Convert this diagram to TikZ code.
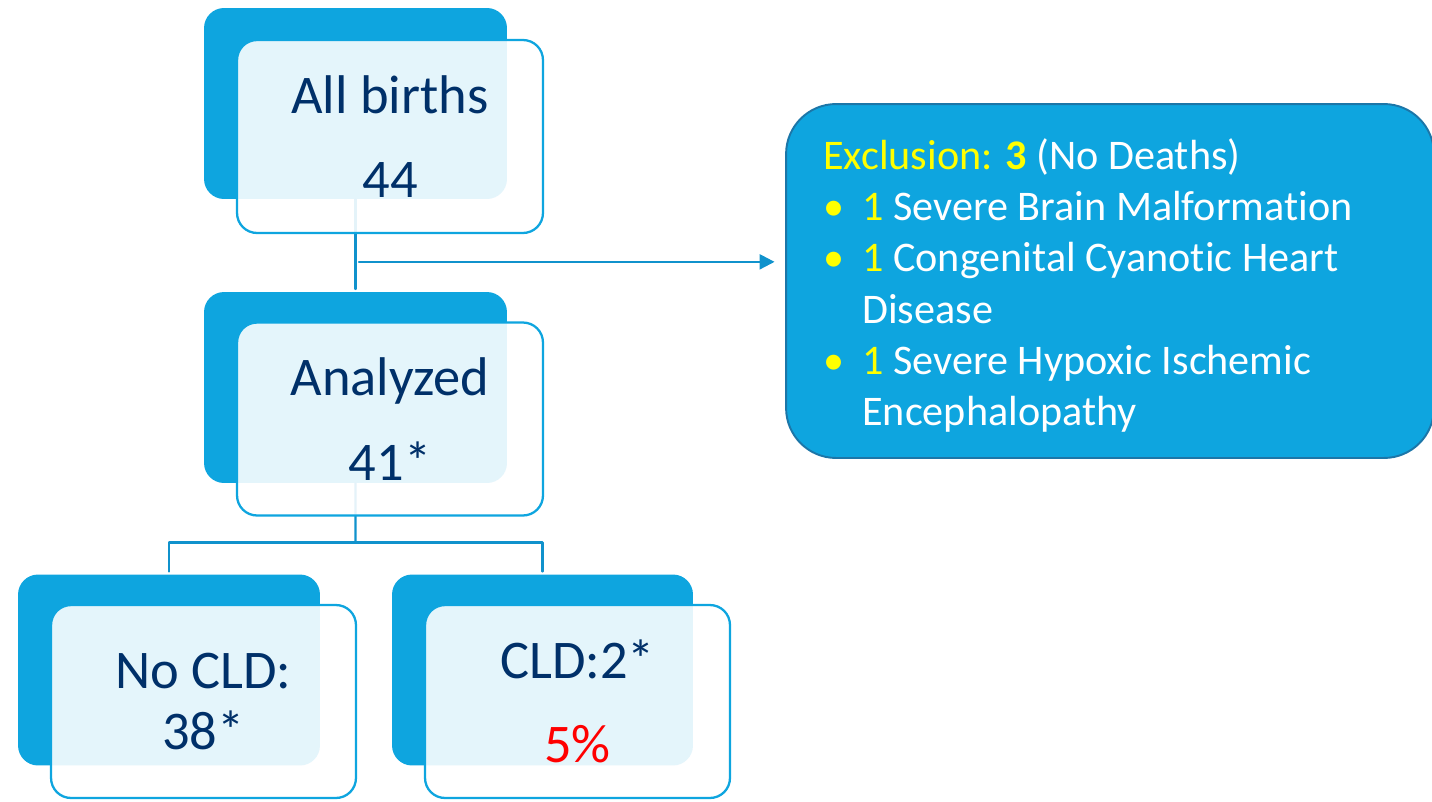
\documentclass[tikz,border=0pt]{standalone}
\usepackage{fontspec}
\setmainfont{Carlito}[Ligatures=NoCommon]
\usetikzlibrary{arrows.meta,positioning,calc}
\definecolor{flowBlue}{RGB}{14, 165, 223}
\definecolor{lineBlue}{RGB}{16, 146, 204}
\definecolor{exclEdge}{RGB}{28, 118, 168}
\definecolor{textNavy}{RGB}{0, 48, 105}
\definecolor{exclYellow}{RGB}{255, 255, 0}
\definecolor{pctRed}{RGB}{255, 0, 0}
\newcommand{\exclbullet}{\makebox[0.78cm][l]{\textcolor{exclYellow}{\textbullet}}}

\begin{document}
\begin{tikzpicture}[x=0.02cm, y=-0.02cm, line cap=round, line join=round,
    backbox/.style={rectangle, rounded corners=0.4cm, fill=flowBlue, minimum width=6.06cm, minimum height=3.82cm, inner sep=0pt},
    frontbox/.style={rectangle, rounded corners=0.4cm, draw=flowBlue, line width=1.3pt, fill=white, fill opacity=0.89, text opacity=1,
        minimum width=6.12cm, minimum height=3.86cm, inner sep=0pt, align=center, text=textNavy, font=\fontsize{31}{48}\selectfont},
    link/.style={draw=lineBlue, line width=1.3pt}]
        \useasboundingbox (0,0) rectangle (1432,801);
        % back cards
        \node[backbox] (birthsBack) at (355.5,103.5) {};
        \node[backbox] (analyzedBack) at (355.5,387.5) {};
        \node[backbox, minimum width=6.04cm] (noCldBack) at (169,670) {};
        \node[backbox, minimum width=6.02cm] (cldBack) at (542.5,670) {};
        % exclusion panel
        \node[rectangle, rounded corners=1cm, fill=flowBlue, draw=exclEdge, line width=1.1pt,
            minimum width=12.96cm, minimum height=7.08cm] (excl) at (1110,281) {};
        \node[anchor=north west, inner sep=0pt, align=left, text=white, font=\fontsize{24}{29.2}\selectfont] (exclText) at (823,138)
            {\textcolor{exclYellow}{Exclusion: \textbf{3}} (No Deaths)\\
             \exclbullet\textcolor{exclYellow}{1} Severe Brain Malformation\\
             \exclbullet\textcolor{exclYellow}{1} Congenital Cyanotic Heart\\
             \hspace*{0.78cm}Disease\\
             \exclbullet\textcolor{exclYellow}{1} Severe Hypoxic Ischemic\\
             \hspace*{0.78cm}Encephalopathy};
        % connectors
        \coordinate (split1) at ($(birthsBack.south)!0.677!(analyzedBack.north)$);
        \coordinate (split2) at ($(analyzedBack.south)!0.65!(analyzedBack.south |- noCldBack.north)$);
        \draw[link] (birthsBack.south) -- ([yshift=1.5pt]analyzedBack.north);
        \draw[link, -{Triangle[length=8.5pt,width=8.5pt]}, shorten <=2pt, shorten >=6pt] (split1) -- (split1 -| excl.west);
        \draw[link] (analyzedBack.south) -- (split2);
        \draw[link] ([yshift=1.5pt]noCldBack.north) |- (split2) -| ([yshift=1.5pt]cldBack.north);
        % front cards
        \node[frontbox] (births) at (390,136.5) {All births\\44};
        \node[frontbox] (analyzed) at (390,419) {Analyzed\\41*};
        \node[frontbox, minimum width=6.10cm, font=\fontsize{31}{35}\selectfont] (noCld) at (203.5,701.5) {No CLD:\\38*};
        \node[frontbox, minimum width=6.10cm] (cld) at (577.5,701.5) {CLD:2*\\\textcolor{pctRed}{5\%}};
    \end{tikzpicture}
\end{document}
